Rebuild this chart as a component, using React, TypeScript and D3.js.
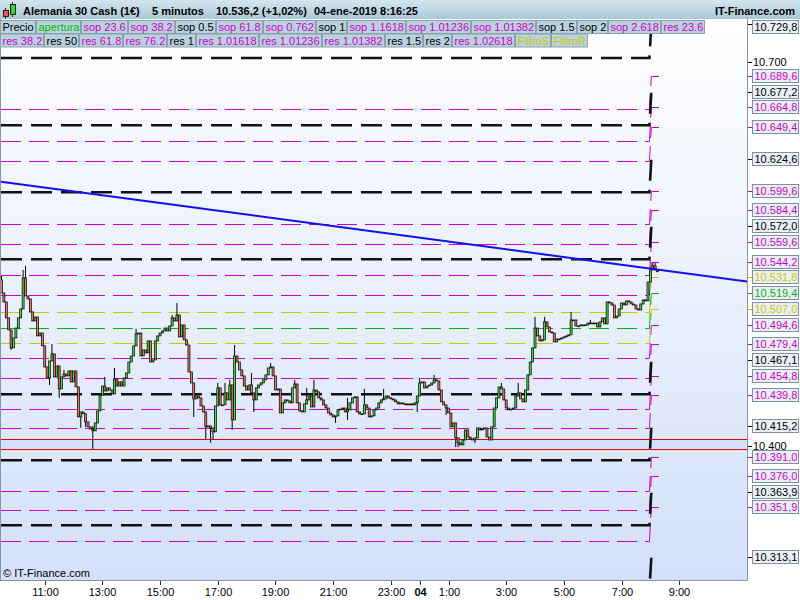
import { useMemo } from "react";
import * as d3 from "d3";

// 5-minute bars, Jan 3 2019 09:30 -> Jan 4 2019 08:15
const startTime = new Date(2019, 0, 3, 9, 30);
const firstOpen = 10529.8;
const closes = [
  10519.6, 10512.6, 10500.1, 10490.7, 10476.6, 10484.4, 10492.2, 10500.1, 10507.1, 10531.4,
  10517.3, 10514.9, 10504.8, 10497.7, 10500.8, 10486.0, 10488.3, 10478.2, 10461.7, 10453.1,
  10466.4, 10471.9, 10453.9, 10462.5, 10444.5, 10453.9, 10456.2, 10454.7, 10458.6, 10450.0,
  10458.6, 10446.1, 10422.6, 10426.5, 10425.0, 10418.7, 10414.8, 10413.2, 10411.7, 10417.9,
  10427.3, 10439.8, 10446.8, 10442.9, 10445.3, 10443.7, 10440.6, 10452.3, 10446.8, 10450.0,
  10446.8, 10453.1, 10457.0, 10465.6, 10470.3, 10478.2, 10487.5, 10488.3, 10470.3, 10475.0,
  10472.7, 10482.1, 10465.6, 10467.2, 10482.1, 10486.0, 10488.3, 10489.9, 10492.2, 10489.9,
  10493.8, 10500.1, 10497.7, 10502.4, 10485.2, 10494.6, 10482.9, 10478.9, 10457.8, 10449.2,
  10436.7, 10439.0, 10437.5, 10431.2, 10426.5, 10414.8, 10415.6, 10414.0, 10410.9, 10431.2,
  10445.3, 10432.0, 10432.0, 10441.4, 10435.9, 10447.6, 10420.3, 10470.3, 10465.6, 10459.4,
  10454.7, 10446.8, 10443.7, 10447.6, 10441.4, 10435.9, 10445.3, 10447.6, 10449.2, 10451.6,
  10455.5, 10460.9, 10461.7, 10454.7, 10443.7, 10444.5, 10425.7, 10433.6, 10435.9, 10435.1,
  10433.6, 10445.3, 10448.4, 10433.6, 10427.3, 10426.5, 10432.8, 10435.9, 10439.0, 10430.4,
  10443.7, 10442.2, 10437.5, 10435.9, 10432.0, 10429.6, 10425.7, 10424.2, 10422.6, 10423.4,
  10428.1, 10428.8, 10429.6, 10426.5, 10428.1, 10433.6, 10437.5, 10438.3, 10426.5, 10425.0,
  10425.0, 10432.0, 10429.6, 10422.6, 10423.4, 10428.1, 10429.6, 10433.6, 10435.9, 10436.7,
  10439.0, 10437.5, 10436.7, 10435.9, 10434.4, 10432.8, 10433.6, 10432.8, 10432.8, 10432.0,
  10432.8, 10432.0, 10433.6, 10439.0, 10449.2, 10450.0, 10445.3, 10446.8, 10447.6, 10449.2,
  10451.6, 10450.8, 10443.7, 10434.4, 10432.0, 10429.6, 10425.7, 10414.8, 10417.9, 10406.2,
  10402.3, 10400.7, 10404.6, 10412.4, 10406.9, 10405.4, 10404.6, 10406.2, 10414.0, 10412.4,
  10413.2, 10414.0, 10406.9, 10404.6, 10414.8, 10429.6, 10437.5, 10446.1, 10444.5, 10435.9,
  10429.6, 10428.1, 10428.8, 10429.6, 10439.0, 10441.4, 10436.7, 10434.4, 10443.7, 10455.5,
  10465.6, 10476.6, 10492.2, 10486.0, 10482.1, 10482.9, 10497.0, 10493.0, 10489.1, 10488.3,
  10481.3, 10483.6, 10483.6, 10484.4, 10485.2, 10486.0, 10486.8, 10498.5, 10498.5, 10493.8,
  10493.8, 10494.6, 10494.6, 10494.6, 10496.1, 10496.1, 10495.4, 10496.1, 10493.0, 10497.0,
  10500.1, 10495.4, 10512.6, 10511.8, 10510.2, 10500.1, 10501.6, 10507.1, 10511.8, 10510.2,
  10513.4, 10512.6, 10511.0, 10510.2, 10507.1, 10506.3, 10511.0, 10514.2, 10513.4, 10528.2,
  10537.6, 10540.8, 10537.6, 10536.2,
];
// [bar index, price] for wicks that reach past the body
const wickHighs = [
  [0, 10532.9], [9, 10537.6], [10, 10540.8], [21, 10479.7], [26, 10459.4], [38, 10415.6],
  [43, 10453.9], [47, 10460.9], [56, 10491.5], [71, 10502.4], [73, 10511.8], [90, 10449.2],
  [93, 10449.2], [95, 10451.6], [97, 10478.9], [104, 10457.0], [112, 10464.8], [122, 10451.6],
  [127, 10445.3], [130, 10451.6], [144, 10437.5], [151, 10444.5], [159, 10444.5], [174, 10453.1],
  [180, 10455.5], [208, 10449.2], [215, 10449.2], [222, 10500.9], [226, 10500.9], [237, 10504.8],
  [245, 10498.5], [271, 10543.1], [272, 10543.1],
];
const wickLows = [
  [4, 10475.0], [20, 10447.6], [24, 10437.5], [33, 10414.0], [35, 10414.8], [38, 10397.6],
  [80, 10422.6], [85, 10404.6], [87, 10402.3], [88, 10404.6], [96, 10412.4], [105, 10426.5],
  [139, 10417.9], [144, 10420.3], [173, 10426.5], [185, 10424.2], [189, 10399.1], [190, 10399.1],
  [197, 10402.3],
];

// pivot levels: value before and after the 08:00 recalculation
const blackOld = [10703.5, 10650.8, 10598.4, 10546.0, 10440.3, 10388.7, 10337.8, 10287.0];
const blackNew = [10729.8, 10677.2, 10624.6, 10572.0, 10467.1, 10415.2, 10363.9, 10313.1];
const magentaOld = [10663.3, 10638.8, 10623.1, 10573.6, 10558.2, 10533.7, 10518.0, 10468.5, 10452.8, 10428.6, 10413.7, 10364.4, 10349.5, 10325.5];
const magentaNew = [10689.6, 10664.8, 10649.4, 10599.6, 10584.4, 10559.6, 10544.2, 10494.6, 10479.4, 10454.8, 10439.8, 10391.0, 10376.0, 10351.9];
const filterOld = [10505.0, 10480.2];
const filterNew = [10531.8, 10507.0];
const openOld = [10492.4];
const openNew = [10519.4];
const levelSwitch = new Date(2019, 0, 4, 8, 0);

const bandPrices = [10405.1, 10397.3];
const trendTimes = [new Date(2019, 0, 3, 9, 29), new Date(2019, 0, 4, 11, 21)];
const trendPrices = [10606.7, 10528.5];

const priceTicks = [10400, 10700];
const timeTicks = [
  new Date(2019, 0, 3, 11), new Date(2019, 0, 3, 13), new Date(2019, 0, 3, 15),
  new Date(2019, 0, 3, 17), new Date(2019, 0, 3, 19), new Date(2019, 0, 3, 21),
  new Date(2019, 0, 3, 23), new Date(2019, 0, 4, 0), new Date(2019, 0, 4, 1),
  new Date(2019, 0, 4, 3), new Date(2019, 0, 4, 5), new Date(2019, 0, 4, 7),
  new Date(2019, 0, 4, 9),
];

const legendRow1 = ["Precio", "apertura", "sop 23.6", "sop 38.2", "sop 0.5", "sop 61.8", "sop 0.762", "sop 1", "sop 1.1618", "sop 1.01236", "sop 1.01382", "sop 1.5", "sop 2", "sop 2.618", "res 23.6"];
const legendRow2 = ["res 38.2", "res 50", "res 61.8", "res 76.2", "res 1", "res 1.01618", "res 1.01236", "res 1.01382", "res 1.5", "res 2", "res 1.02618", "FiltroS", "FiltroR"];
const blackLegend = ["Precio", "sop 0.5", "sop 1", "sop 1.5", "sop 2", "res 50", "res 1", "res 1.5", "res 2"];

const titleParts = ["Alemania 30 Cash (1€)", "5 minutos", "10.536,2 (+1,02%)", "04-ene-2019 8:16:25"];
const brand = "IT-Finance.com";

const FONT = "'Liberation Sans', Arial, sans-serif";
const MAGENTA = "#cc00cc";
const YELLOW = "#c8c800";
const GREEN = "#00b800";

const locale = d3.formatLocale({ decimal: ",", thousands: ".", grouping: [3], currency: ["", ""] });
const fmtLevel = locale.format(",.1f");
const fmtTick = locale.format(",");

function legendColor(label: string) {
  if (label === "apertura") return GREEN;
  if (label.startsWith("Filtro")) return YELLOW;
  if (blackLegend.includes(label)) return "#000";
  return MAGENTA;
}

export default function App() {
  const plot = { left: 1, right: 747, top: 19, bottom: 580 };
  const x = d3.scaleTime().domain([trendTimes[0], trendTimes[1]]).range([plot.left, plot.right]);
  const y = d3.scaleLinear().domain([10295, 10734]).range([plot.bottom, plot.top]);
  // snap thin horizontal lines onto the pixel grid
  const ys = (p: number) => Math.round(y(p)) + 0.5;

  const bars = useMemo(() => {
    const hi = new Map(wickHighs.map(([i, v]) => [i, v]));
    const lo = new Map(wickLows.map(([i, v]) => [i, v]));
    return closes.map((c, i) => {
      const o = i === 0 ? firstOpen : closes[i - 1];
      return {
        t: d3.timeMinute.offset(startTime, 5 * i),
        o,
        c,
        h: hi.get(i) ?? Math.max(o, c),
        l: lo.get(i) ?? Math.min(o, c),
      };
    });
  }, []);

  const measure = useMemo(() => {
    const ctx = document.createElement("canvas").getContext("2d")!;
    ctx.font = `11px ${FONT}`;
    return (s: string) => ctx.measureText(s).width;
  }, []);

  const layoutRow = (labels: string[]) => {
    let cx = 0;
    return labels.map((label) => {
      const w = Math.round(measure(label) + 3.5);
      const item = { label, x: cx, w };
      cx += w + 1;
      return item;
    });
  };

  const barW = x(d3.timeMinute.offset(startTime, 5)) - x(startTime);

  const levelLine = (oldP: number, newP: number, tail: number, snap: boolean) => {
    const f = snap ? ys : y;
    return d3.line()([
      [x(trendTimes[0]), f(oldP)],
      [x(d3.timeMinute.offset(levelSwitch, -2)), f(oldP)],
      [x(d3.timeMinute.offset(levelSwitch, 2)), f(newP)],
      [x(d3.timeMinute.offset(levelSwitch, tail)), f(newP)],
    ])!;
  };

  const labels = [
    ...blackNew.map((v) => ({ v, color: "#000" })),
    ...magentaNew.map((v) => ({ v, color: MAGENTA })),
    ...filterNew.map((v) => ({ v, color: YELLOW })),
    ...openNew.map((v) => ({ v, color: GREEN })),
  ];

  return (
    <div>
      <style>{"body{margin:0}"}</style>
      <svg width={800} height={600} style={{ display: "block" }} fontFamily={FONT}>
        <defs>
          <linearGradient id="bg" x1="0" y1="0" x2="0" y2="1">
            <stop offset="0" stopColor="#ffffff" />
            <stop offset="1" stopColor="#d4e0fa" />
          </linearGradient>
          <linearGradient id="titlebar" x1="0" y1="0" x2="0" y2="1">
            <stop offset="0" stopColor="#d3e6ef" />
            <stop offset="1" stopColor="#a9c8d7" />
          </linearGradient>
          <clipPath id="plotclip">
            <rect x={plot.left} y={plot.top} width={plot.right - plot.left} height={plot.bottom - plot.top} />
          </clipPath>
        </defs>

        <rect width={800} height={600} fill="#fff" />
        <rect x={plot.left} y={plot.top} width={plot.right - plot.left} height={plot.bottom - plot.top} fill="url(#bg)" />

        <g clipPath="url(#plotclip)">
          <rect x={plot.left} y={ys(bandPrices[0])} width={plot.right - plot.left} height={ys(bandPrices[1]) - ys(bandPrices[0])} fill="#cad9f8" opacity={0.5} />
          {bandPrices.map((p) => (
            <line key={p} x1={plot.left} x2={plot.right} y1={ys(p)} y2={ys(p)} stroke="#e00000" strokeWidth={1} />
          ))}

          {magentaOld.map((p, i) => (
            <path key={`m${i}`} d={levelLine(p, magentaNew[i], 18, true)} fill="none" stroke={MAGENTA} strokeWidth={1} strokeDasharray="20 8" />
          ))}
          {filterOld.map((p, i) => (
            <path key={`f${i}`} d={levelLine(p, filterNew[i], 18, true)} fill="none" stroke={YELLOW} strokeWidth={1} strokeDasharray="20 8" />
          ))}
          {openOld.map((p, i) => (
            <path key={`o${i}`} d={levelLine(p, openNew[i], 18, true)} fill="none" stroke={GREEN} strokeWidth={1} strokeDasharray="20 8" />
          ))}
          {blackOld.map((p, i) => (
            <path key={`b${i}`} d={levelLine(p, blackNew[i], 4, false)} fill="none" stroke="#111" strokeWidth={2.6} strokeDasharray="21 9" />
          ))}

          {bars.map((b, i) => {
            const cx = x(b.t);
            const top = y(Math.max(b.o, b.c));
            const bot = y(Math.min(b.o, b.c));
            const up = b.c >= b.o;
            return (
              <g key={i}>
                <line x1={cx} x2={cx} y1={y(b.h)} y2={y(b.l)} stroke="#000" strokeWidth={1} />
                <rect
                  x={cx - barW / 2 + 0.2}
                  y={top}
                  width={barW - 0.4}
                  height={Math.max(bot - top, 0.8)}
                  fill={up ? "#44dd44" : "#ec7464"}
                  stroke="#000"
                  strokeWidth={0.7}
                />
              </g>
            );
          })}

          <line
            x1={x(trendTimes[0])}
            x2={x(trendTimes[1])}
            y1={y(trendPrices[0])}
            y2={y(trendPrices[1])}
            stroke="#1010f0"
            strokeWidth={2}
          />
        </g>

        {/* frame */}
        <line x1={0.5} x2={0.5} y1={plot.top} y2={plot.bottom} stroke="#8497a8" />
        <line x1={plot.right + 0.5} x2={plot.right + 0.5} y1={plot.top} y2={plot.bottom + 0.5} stroke="#8497a8" />
        <line x1={0} x2={plot.right + 0.5} y1={plot.bottom + 0.5} y2={plot.bottom + 0.5} stroke="#8497a8" />

        {/* time axis */}
        {timeTicks.map((t) => {
          const tx = Math.round(x(t)) + 0.5;
          const midnight = t.getHours() === 0;
          return (
            <g key={+t}>
              <line x1={tx} x2={tx} y1={plot.bottom + 1} y2={plot.bottom + 5} stroke="#333" />
              <text x={tx} y={596} textAnchor="middle" fontSize={11} fontWeight={midnight ? "bold" : "normal"} fill="#000">
                {midnight ? d3.timeFormat("%d")(t) : `${t.getHours()}:00`}
              </text>
            </g>
          );
        })}
        <text x={3} y={577} fontSize={11} fill="#000">© IT-Finance.com</text>

        {/* price axis */}
        {priceTicks.map((p) => (
          <g key={p}>
            <line x1={plot.right + 1} x2={plot.right + 5} y1={ys(p)} y2={ys(p)} stroke="#000" />
            <text x={753} y={y(p) + 4} fontSize={11} fill="#000">{fmtTick(p)}</text>
          </g>
        ))}
        {labels.map(({ v, color }) => {
          const ly = Math.max(Math.round(y(v)), 27);
          return (
            <g key={v}>
              <line x1={plot.right + 1} x2={plot.right + 6} y1={ys(v)} y2={ys(v)} stroke={color} />
              <rect x={752.5} y={ly - 6.5} width={46} height={13} fill="#eaf0f6" stroke="#7d8fa0" />
              <text x={754.5} y={ly + 4} fontSize={11} fill={color}>{fmtLevel(v)}</text>
            </g>
          );
        })}

        {/* title bar */}
        <rect x={0} y={0} width={800} height={19} fill="url(#titlebar)" />
        <g stroke="#000" strokeWidth={0.8}>
          <line x1={5.5} x2={5.5} y1={8} y2={19} />
          <rect x={3.5} y={10.5} width={5} height={6} fill="#e05a4a" />
          <line x1={12.5} x2={12.5} y1={2} y2={17} />
          <rect x={10.5} y={4.5} width={5} height={10} fill="#3ccc3c" />
        </g>
        {titleParts.map((s, i) => (
          <text key={s} x={[23, 152, 216, 314][i]} y={15} fontSize={11} fontWeight="bold" fill="#000">{s}</text>
        ))}
        <text x={795} y={15} fontSize={11} fontWeight="bold" textAnchor="end" fill="#000">{brand}</text>

        {/* legend rows */}
        {[legendRow1, legendRow2].map((row, r) => (
          <g key={r}>
            {layoutRow(row).map((it) => (
              <g key={it.label}>
                <rect x={it.x + 0.5} y={20.5 + r * 13.5} width={it.w} height={13} fill="#b9d2de" stroke="#8ba2ae" />
                <text x={it.x + 2.5} y={31 + r * 13.5} fontSize={11} fill={legendColor(it.label)}>{it.label}</text>
              </g>
            ))}
          </g>
        ))}
      </svg>
    </div>
  );
}
